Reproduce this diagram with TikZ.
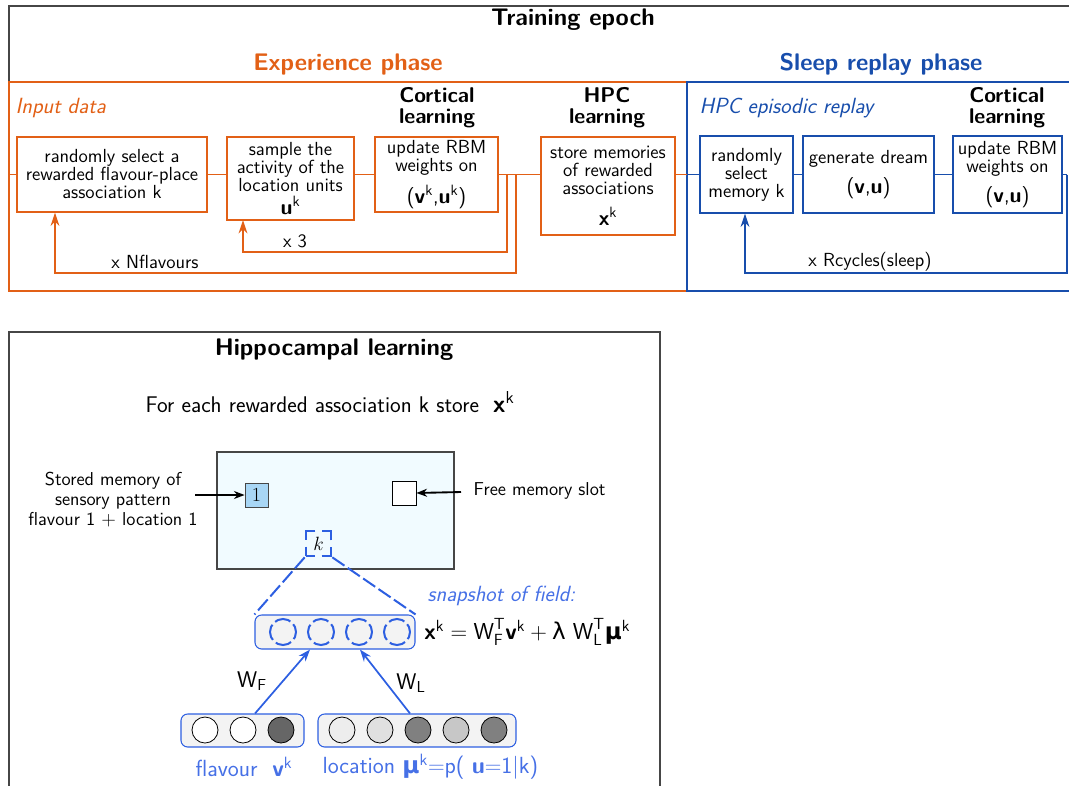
\documentclass[tikz,border=0pt]{standalone}
\usepackage{amsmath}
\usepackage{fontspec}
\renewcommand{\familydefault}{\sfdefault}
\newfontfamily\dejavu{DejaVu Sans}
\usetikzlibrary{arrows.meta,calc}
\definecolor{orng}{RGB}{226,96,22}
\definecolor{sblue}{RGB}{24,78,172}
\definecolor{lblue}{RGB}{45,95,225}
\definecolor{tblue}{RGB}{70,112,230}
\definecolor{framegray}{RGB}{70,70,70}
\definecolor{memfill}{RGB}{241,251,255}
\definecolor{slotblue}{RGB}{168,214,245}
\definecolor{pillgray}{RGB}{243,243,243}
\newcommand\mybody{\sffamily\fontsize{14.2}{13.5}\selectfont}
\newcommand\mytitle{\sffamily\fontsize{18}{18}\selectfont\bfseries}
\newcommand\mysub{\sffamily\fontsize{16}{15.75}\selectfont\bfseries}
\newcommand\myital{\sffamily\fontsize{16.5}{16}\selectfont\itshape}
\newcommand\mybig{\fontsize{16}{16}\selectfont}
\newcommand\sk{\textsuperscript{k}}
\begin{document}
\begin{tikzpicture}[x=0.75pt,y=-0.75pt,font=\sffamily,
  obox/.style={draw=orng,line width=0.8pt,align=center,inner sep=1pt,font=\mybody},
  bbox/.style={draw=sblue,line width=0.8pt,align=center,inner sep=1pt,font=\mybody},
  oline/.style={orng,line width=0.9pt},
  bline/.style={sblue,line width=0.9pt},
  oloop/.style={orng,line width=1.6pt,-{Stealth[length=10pt,width=6.5pt]}},
  bloop/.style={sblue,line width=1.6pt,-{Stealth[length=10pt,width=6.5pt]}},
  lbl/.style={font=\mybody,inner sep=0pt},
  kline/.style={lblue,line width=1.5pt,dash pattern=on 11pt off 3pt},
  dcirc/.style={circle,draw=lblue,line width=1.5pt,dash pattern=on 12.3pt off 3pt,dash phase=6pt,minimum size=19.5pt,inner sep=0pt},
  scirc/.style={circle,draw=black,line width=0.6pt,minimum size=19.5pt,inner sep=0pt},
  pill/.style={draw=lblue,line width=0.8pt,fill=pillgray,rounded corners=5pt},
  barrow/.style={lblue,line width=1.3pt,-{Stealth[length=9pt,width=6.5pt]}},
  karrow/.style={black,line width=1.4pt,-{Stealth[length=8pt,width=6pt]}}]
\clip (0,0) rectangle (1069,785);
% ---------- top panel frames
\draw[framegray,line width=0.9pt] (9,6) rectangle (1135,291);
\draw[orng,line width=0.9pt] (9,82) rectangle (687,291);
\draw[sblue,line width=0.9pt] (687,82) rectangle (1075,291);
\node[font=\mytitle] (tepoch) at (573,20) {Training epoch};
\node[font=\mytitle,text=orng] (exph) at (348,64) {Experience phase};
\node[font=\mytitle,text=sblue] (slph) at (881,64) {Sleep replay phase};
\node[font=\myital,text=orng,anchor=west] (inp) at (11,108) {Input data};
\node[font=\myital,text=sblue,anchor=west] (hper) at (695,108) {HPC episodic replay};
\node[font=\mysub,align=center] (cl1) at (437,108) {Cortical\\learning};
\node[font=\mysub,align=center] (hpcl) at (607,108) {HPC\\learning};
\node[font=\mysub,align=center] (cl2) at (1007,108) {Cortical\\learning};
% ---------- orange boxes
\node[obox,minimum width=142.5pt,minimum height=56.25pt] (A) at (112,174.5)
  {randomly select a\\rewarded flavour-place\\association k};
\node[obox,minimum width=95.25pt,minimum height=62.25pt] (B) at (290.5,178.5)
  {sample the\\activity of the\\location units\\[2pt]{\mybig\textbf{u}\sk}};
\node[obox,minimum width=92.25pt,minimum height=56.25pt] (C) at (436.5,174.5)
  {update RBM\\weights on\\[6pt]{\mybig(\textbf{v}\sk,\textbf{u}\sk)}};
\node[obox,minimum width=100.5pt,minimum height=73.5pt] (D) at (608,186)
  {store memories\\of rewarded\\associations\\[8pt]{\mybig\textbf{x}\sk}};
% ---------- blue boxes
\node[bbox,minimum width=69.75pt,minimum height=57.75pt] (E) at (746.5,174.5)
  {randomly\\select\\memory k};
\node[bbox,minimum width=98.25pt,minimum height=57.75pt] (F) at (868.5,174.5)
  {generate dream\\[6pt]{\mybig(\textbf{v},\textbf{u})}};
\node[bbox,minimum width=81.75pt,minimum height=57.75pt] (G) at (1007.5,174.5)
  {update RBM\\weights on\\[6pt]{\mybig(\textbf{v},\textbf{u})}};
% ---------- connectors
\coordinate (ol) at (9,174.5);
\coordinate (dv) at (687,174.5);
\coordinate (br) at (1067,174.5);
\coordinate (l1) at (507,174.5);
\coordinate (l2) at (516,174.5);
\draw[oline] (ol) -- (A.west);
\draw[oline] (A.east) -- (A.east -| B.west);
\draw[oline] (A.east -| B.east) -- (C.west);
\draw[oline] (C.east) -- (C.east -| D.west);
\draw[oline] (C.east -| D.east) -- (dv);
\draw[bline] (dv) -- (E.west);
\draw[bline] (E.east) -- (F.west);
\draw[bline] (F.east) -- (G.west);
\draw[bline] (G.east) -- (br);
% loops
\draw[oloop] (l1) |- (243,252) -- (243,220);
\draw[oloop] (l2) |- (55,273) -- (55,212.5);
\draw[bloop] (br) |- (745,273) -- (745,213.5);
\node[lbl] (x3) at (295,241) {x 3};
\node[lbl] (xn) at (155,262) {x Nflavours};
\node[lbl] (xr) at (870,262) {x Rcycles(sleep)};
% ---------- bottom panel
\draw[framegray,line width=0.9pt] (9,332) rectangle (660,800);
\node[font=\mytitle] (hl) at (334,350) {Hippocampal learning};
\node[font=\sffamily\fontsize{17}{17}\selectfont] (fe) at (330,402) {For each rewarded association k store\ \ {\fontsize{18.5}{18}\selectfont\textbf{x}\sk}};
\node[draw=framegray,line width=0.8pt,fill=memfill,minimum width=177.75pt,minimum height=87.75pt] (mem) at (335.5,510.5) {};
\node[draw=framegray,line width=0.6pt,fill=slotblue,minimum width=17.25pt,minimum height=18pt,inner sep=0pt,font=\rmfamily\fontsize{15}{15}\selectfont] (s1) at (256.5,495) {1};
\node[draw=black,line width=0.6pt,fill=white,minimum width=18pt,minimum height=18pt,inner sep=0pt] (fs) at (404,493) {};
\node[draw=lblue,line width=2pt,dash pattern=on 14pt off 4.75pt,dash phase=7pt,fill=memfill,minimum size=18.75pt,inner sep=0pt,font=\fontsize{15}{15}\selectfont] (ks) at (318.5,543.5) {$k$};
\node[font=\sffamily\fontsize{14}{15}\selectfont,align=center] (smtxt) at (113,500)
  {Stored memory of\\sensory pattern\\flavour 1 $+$ location 1};
\node[font=\sffamily\fontsize{14}{15}\selectfont,anchor=west] (fmtxt) at (469,491) {Free memory slot};
\coordinate (a1) at (195,495);
\coordinate (a2) at (461,492);
\draw[karrow] (a1) -- (s1.west);
\draw[karrow] (a2) -- (fs.east);
% snapshot pill
\node[pill,minimum width=120pt,minimum height=25.5pt] (snap) at (335,632) {};
\node[dcirc] (c1) at (283,632) {};
\node[dcirc] (c2) at (321,632) {};
\node[dcirc] (c3) at (359,632) {};
\node[dcirc] (c4) at (397,632) {};
\draw[kline] (ks.south west) -- (snap.north west);
\draw[kline] (ks.south east) -- (snap.north east);
\node[font=\myital,text=tblue,anchor=west] (snt) at (423,596) {snapshot of field:};
\node[font=\sffamily\fontsize{17.3}{17}\selectfont,anchor=west,inner sep=0pt] (eq) at (424,632)
  {$\textbf{x}^{\textsf{k}} = \textsf{W}_{\textsf{F}}^{\textsf{T}}\textbf{v}^{\textsf{k}} + \text{\dejavu λ}\ \textsf{W}_{\textsf{L}}^{\textsf{T}}\text{\dejavu\bfseries μ}^{\textsf{k}}$};
% input pills
\node[pill,minimum width=92.25pt,minimum height=24.75pt] (fp) at (242.5,730.5) {};
\node[pill,minimum width=148.5pt,minimum height=24.75pt] (lp) at (417,730.5) {};
\node[scirc,fill=white] (f1) at (205,730) {};
\node[scirc,fill=white] (f2) at (243,730) {};
\node[scirc,fill=black!60] (f3) at (281,730) {};
\node[scirc,fill=black!7] (p1) at (342,730) {};
\node[scirc,fill=black!12] (p2) at (380,730) {};
\node[scirc,fill=black!50] (p3) at (418,730) {};
\node[scirc,fill=black!22] (p4) at (456,730) {};
\node[scirc,fill=black!50] (p5) at (494,730) {};
\draw[barrow] ([xshift=9.4pt]fp.north) -- ([xshift=-18.75pt]snap.south);
\draw[barrow] ([xshift=-5.25pt]lp.north) -- ([xshift=18.75pt]snap.south);
\node[font=\sffamily\fontsize{17}{17}\selectfont] (wf) at (252,681) {W\textsubscript{F}};
\node[font=\sffamily\fontsize{17}{17}\selectfont] (wl) at (411,683) {W\textsubscript{L}};
\node[font=\sffamily\fontsize{17.5}{17}\selectfont,text=tblue] (flv) at (244,767) {flavour\ \ \textbf{v}\sk};
\node[font=\sffamily\fontsize{17.5}{17}\selectfont,text=tblue,anchor=west] (loc) at (318,767) {location {\dejavu\bfseries μ}\sk$=$p( \textbf{u}$=$1$|$k)};
\end{tikzpicture}
\end{document}
